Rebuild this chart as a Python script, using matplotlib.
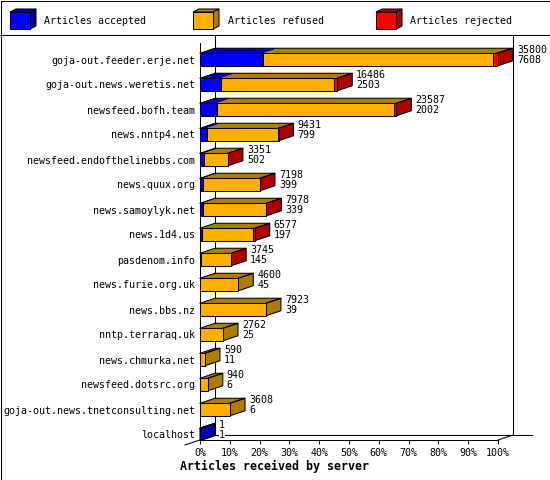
import numpy as np
import matplotlib
matplotlib.use("Agg")
import matplotlib.pyplot as plt
from matplotlib.patches import Polygon, Rectangle

servers = [
    "goja-out.feeder.erje.net",
    "goja-out.news.weretis.net",
    "newsfeed.bofh.team",
    "news.nntp4.net",
    "newsfeed.endofthelinebbs.com",
    "news.quux.org",
    "news.samoylyk.net",
    "news.1d4.us",
    "pasdenom.info",
    "news.furie.org.uk",
    "news.bbs.nz",
    "nntp.terraraq.uk",
    "news.chmurka.net",
    "newsfeed.dotsrc.org",
    "goja-out.news.tnetconsulting.net",
    "localhost",
]
totals = [35800, 16486, 23587, 9431, 3351, 7198, 7978, 6577, 3745, 4600, 7923, 2762, 590, 940, 3608, 1]
accepted = [7608, 2503, 2002, 799, 502, 399, 339, 197, 145, 45, 39, 25, 11, 6, 6, 1]
rejected = [580, 350, 330, 60, 20, 30, 30, 150, 20, 0, 0, 0, 0, 0, 0, 0]
refused = [t - a - r for t, a, r in zip(totals, accepted, rejected)]

series_names = ["Articles accepted", "Articles refused", "Articles rejected"]
face_col = ["#0000ff", "#ffb000", "#ff0000"]
shade_col = ["#0000b0", "#b07c00", "#b00000"]

plt.rcParams["font.family"] = ["DejaVu Sans Mono"]
FS = 7.2
LW = 0.75

W, H = 550, 480
fig = plt.figure(figsize=(W / 100, H / 100), dpi=100)

# frame + legend (pixel coordinates)
frame = fig.add_axes([0, 0, 1, 1])
frame.set_xlim(0, W)
frame.set_ylim(H, 0)
frame.axis("off")
frame.add_patch(Rectangle((0.5, 0.5), W - 1, H - 1, fill=False, ec="black", lw=LW))
frame.plot([0, W], [35, 35], color="black", lw=LW)

for k, name in enumerate(series_names):
    x0 = 10 + 183 * k
    frame.add_patch(Polygon([(x0, 12), (x0 + 20, 12), (x0 + 26, 9), (x0 + 6, 9)],
                            fc=shade_col[k], ec="black", lw=LW))
    frame.add_patch(Polygon([(x0 + 20, 12), (x0 + 20, 29), (x0 + 26, 26), (x0 + 26, 9)],
                            fc=shade_col[k], ec="black", lw=LW))
    frame.add_patch(Rectangle((x0, 12), 20, 17, fc=face_col[k], ec="black", lw=LW))
    frame.text(x0 + 34.5, 20.5, name, fontsize=FS, va="center", ha="left")

# main plot, front plane
ax_l, ax_r, ax_t, ax_b = 200, 498, 43, 440
row0, row_px = 59.5, 25
ax = fig.add_axes([ax_l / W, (H - ax_b) / H, (ax_r - ax_l) / W, (ax_b - ax_t) / H])
y_top = (ax_t - row0) / row_px
y_bot = (ax_b - row0) / row_px
ax.set_xlim(0, 100)
ax.set_ylim(y_bot, y_top)
ax.patch.set_alpha(0)

px_x = 100 / (ax_r - ax_l)
px_y = 1 / row_px
dx = 15 * px_x
dy = 5 * px_y
bar_h = 12.5 * px_y
y_sep = (35 - row0) / row_px

# walls and floor
line_kw = dict(color="black", lw=LW, clip_on=False, zorder=1)
ax.plot([dx, dx], [y_bot - dy, y_sep], **line_kw)
ax.plot([100 + dx, 100 + dx], [y_bot - dy, y_sep], **line_kw)
ax.plot([dx, (532 - ax_l) * px_x], [y_bot - dy, y_bot - dy], **line_kw)
ax.plot([100, 100 + dx], [y_bot, y_bot - dy], **line_kw)
ax.plot([-dx, dx], [y_bot + dy, y_bot - dy], **line_kw)

tmax = max(totals)
n = len(servers)
for i in range(n):
    segs = [accepted[i], refused[i], rejected[i]]
    top_y = i - bar_h / 2
    left = 0.0
    last = 0
    for k, v in enumerate(segs):
        if v <= 0:
            continue
        w = v / tmax * 100
        ax.barh(i, w, left=left, height=bar_h, color=face_col[k],
                edgecolor="black", linewidth=LW, zorder=3)
        ax.add_patch(Polygon([(left, top_y), (left + w, top_y),
                              (left + w + dx, top_y - dy), (left + dx, top_y - dy)],
                             fc=shade_col[k], ec="none", zorder=2, clip_on=False))
        left += w
        last = k
    end = left
    ax.add_patch(Polygon([(end, top_y), (end, top_y + bar_h),
                          (end + dx, top_y + bar_h - dy), (end + dx, top_y - dy)],
                         fc=shade_col[last], ec="black", lw=LW, zorder=2, clip_on=False))
    ax.plot([0, dx, end + dx, end], [top_y, top_y - dy, top_y - dy, top_y],
            color="black", lw=LW, zorder=4, clip_on=False)
    ax.text(end + dx + 4 * px_x, i - 4.25 * px_y, f"{totals[i]}\n{accepted[i]}",
            fontsize=FS, ha="left", va="center", linespacing=1.05, zorder=5,
            bbox=dict(fc="white", ec="none", pad=0), clip_on=False)

ax.spines["top"].set_visible(False)
ax.spines["right"].set_visible(False)
for s in ("left", "bottom"):
    ax.spines[s].set_linewidth(LW)
    ax.spines[s].set_zorder(6)
ax.set_xticks(np.arange(0, 101, 10))
ax.set_xticklabels([f"{v}%" for v in range(0, 101, 10)], fontsize=FS)
ax.set_yticks(range(n))
ax.set_yticklabels(servers, fontsize=FS)
ax.tick_params(axis="x", direction="out", length=4 * 0.72, width=LW, pad=3)
ax.tick_params(axis="y", length=0, pad=3.3)

fig.text(0.5, 1 - 466 / H, "Articles received by server", fontsize=8.4,
         fontweight="bold", ha="center", va="center")

fig.savefig("out.png", dpi=100)
